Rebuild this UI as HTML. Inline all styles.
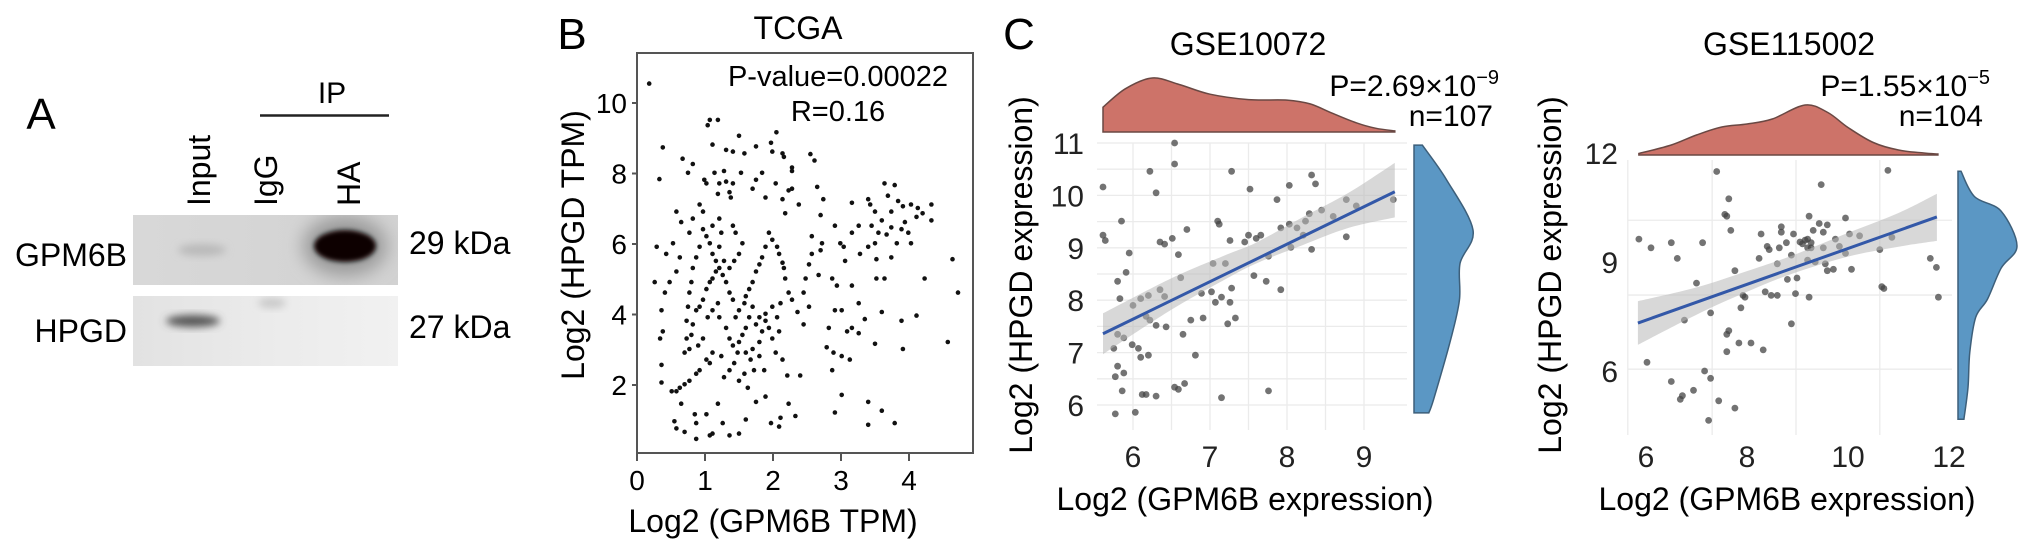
<!DOCTYPE html>
<html><head><meta charset="utf-8">
<style>
html,body{margin:0;padding:0;background:#fff;}
svg{display:block;font-family:"Liberation Sans",Arial,sans-serif;}
</style></head>
<body>
<svg id="fig" width="2032" height="552" viewBox="0 0 2032 552" xmlns="http://www.w3.org/2000/svg">
<defs>
<filter id="blur4" x="-50%" y="-50%" width="200%" height="200%"><feGaussianBlur stdDeviation="4"/></filter>
<filter id="blur8" x="-50%" y="-50%" width="200%" height="200%"><feGaussianBlur stdDeviation="9"/></filter>
<filter id="blur2" x="-50%" y="-50%" width="200%" height="200%"><feGaussianBlur stdDeviation="2.5"/></filter>
<linearGradient id="hpgdBg" x1="0" x2="1" y1="0" y2="0"><stop offset="0" stop-color="#e2e2e2"/><stop offset="0.5" stop-color="#ebebeb"/><stop offset="1" stop-color="#f1f1f1"/></linearGradient>
<linearGradient id="gpmBg" x1="0" x2="1" y1="0" y2="0"><stop offset="0" stop-color="#d8d8d8"/><stop offset="1" stop-color="#d2d2d2"/></linearGradient>
<clipPath id="clipB1"><rect x="133" y="215" width="265" height="70"/></clipPath>
<clipPath id="clipB2"><rect x="133" y="296" width="265" height="70"/></clipPath>
</defs>

<!-- Panel A -->
<g>
<text x="41" y="129" font-size="44" text-anchor="middle">A</text>
<text x="332" y="103" font-size="30" text-anchor="middle">IP</text>
<line x1="260" y1="115.5" x2="389" y2="115.5" stroke="#222" stroke-width="2.5"/>
<text transform="translate(210,206) rotate(-90)" font-size="32">Input</text>
<text transform="translate(277,206) rotate(-90)" font-size="32">IgG</text>
<text transform="translate(360,206) rotate(-90)" font-size="32">HA</text>
<text x="127" y="266" font-size="32" text-anchor="end">GPM6B</text>
<text x="127" y="342" font-size="32" text-anchor="end">HPGD</text>
<text x="409" y="254" font-size="32">29 kDa</text>
<text x="409" y="338" font-size="32">27 kDa</text>
<g clip-path="url(#clipB1)">
<rect x="133" y="215" width="265" height="70" fill="url(#gpmBg)"/>
<ellipse cx="202" cy="250" rx="24" ry="6" fill="#b9b9b9" filter="url(#blur4)"/>
<ellipse cx="345" cy="246" rx="42" ry="30" fill="#9a9a9a" filter="url(#blur8)"/>
<ellipse cx="345" cy="246" rx="31" ry="16" fill="#0a0404" filter="url(#blur2)"/>
</g>
<g clip-path="url(#clipB2)">
<rect x="133" y="296" width="265" height="70" fill="url(#hpgdBg)"/>
<ellipse cx="193" cy="321" rx="27" ry="6" fill="#555" filter="url(#blur4)"/>
<ellipse cx="272" cy="303" rx="14" ry="5" fill="#c8c8c8" filter="url(#blur4)"/>
</g>
</g>

<!-- Panel B -->
<g id="panelB">
<text x="572" y="49" font-size="44" text-anchor="middle">B</text>
<text x="798" y="39" font-size="32" text-anchor="middle">TCGA</text>
<rect x="637" y="53" width="336" height="400" fill="none" stroke="#555" stroke-width="2"/>
<text x="838" y="86" font-size="29" text-anchor="middle">P-value=0.00022</text>
<text x="838" y="121" font-size="29" text-anchor="middle">R=0.16</text>
<text transform="translate(584,245) rotate(-90)" font-size="32" text-anchor="middle">Log2 (HPGD TPM)</text>
<text x="773" y="532" font-size="32" text-anchor="middle">Log2 (GPM6B TPM)</text>
</g>

<!-- Panel C -->
<text x="1019" y="49" font-size="44" text-anchor="middle">C</text>
<g id="panelC1">
<text x="1248" y="55" font-size="32" text-anchor="middle">GSE10072</text>
<text x="1499" y="96" font-size="30" text-anchor="end">P=2.69×10<tspan font-size="20" dy="-12">−9</tspan></text>
<text x="1493" y="126" font-size="30" text-anchor="end">n=107</text>
<text transform="translate(1032,275) rotate(-90)" font-size="32" text-anchor="middle">Log2 (HPGD expression)</text>
<text x="1245" y="510" font-size="32" text-anchor="middle">Log2 (GPM6B expression)</text>
</g>
<g id="panelC2">
<text x="1789" y="55" font-size="32" text-anchor="middle">GSE115002</text>
<text x="1990" y="96" font-size="30" text-anchor="end">P=1.55×10<tspan font-size="20" dy="-12">−5</tspan></text>
<text x="1983" y="126" font-size="30" text-anchor="end">n=104</text>
<text transform="translate(1561,275) rotate(-90)" font-size="32" text-anchor="middle">Log2 (HPGD expression)</text>
<text x="1787" y="510" font-size="32" text-anchor="middle">Log2 (GPM6B expression)</text>
</g>
</svg>

<script>
// ---------- TCGA data ----------
const tcgaXTicks = [0, 1, 2, 3, 4];
const tcgaYTicks = [2, 4, 6, 8, 10];
const tcgaPoints = [[0.18,10.55],[1.07,9.52],[1.19,9.52],[1.04,9.37],[0.38,8.74],[0.33,7.84],[1.50,9.07],[2.05,9.17],[1.97,8.87],[1.99,8.62],[2.14,8.57],[2.16,8.47],[1.75,8.77],[1.58,8.57],[1.41,8.62],[1.31,8.67],[1.11,8.82],[2.55,8.55],[2.61,8.37],[0.67,8.42],[0.82,8.27],[0.75,8.02],[1.14,8.02],[1.28,8.07],[1.41,7.72],[1.53,8.02],[2.28,8.17],[2.28,8.07],[1.84,8.02],[1.75,7.82],[1.70,7.57],[1.89,7.32],[2.04,7.72],[0.99,7.82],[1.02,7.72],[1.21,7.72],[1.31,7.77],[1.36,7.47],[1.38,7.32],[1.19,7.42],[2.65,7.62],[2.23,7.52],[2.28,7.57],[2.38,7.12],[2.14,7.27],[2.18,6.87],[2.74,7.27],[2.70,6.82],[2.91,6.52],[3.16,7.17],[3.40,7.27],[3.43,7.12],[3.50,6.92],[3.64,7.72],[3.79,7.67],[3.69,7.37],[3.84,7.22],[3.91,7.07],[4.03,7.12],[4.13,7.02],[4.20,6.87],[4.33,7.12],[4.33,6.67],[4.11,6.77],[3.74,6.92],[3.60,6.67],[3.45,6.52],[3.74,6.47],[3.55,6.32],[3.67,6.27],[3.89,6.42],[3.82,6.02],[3.50,6.02],[3.40,5.92],[3.28,5.72],[3.16,6.32],[3.26,6.52],[2.99,6.02],[3.06,5.52],[3.04,5.92],[3.74,5.62],[3.52,5.57],[4.03,6.02],[4.23,5.02],[3.64,5.02],[3.52,5.02],[3.94,6.62],[3.99,6.32],[4.64,5.57],[4.72,4.62],[4.57,3.22],[4.11,3.97],[3.89,3.82],[3.91,3.02],[3.60,4.07],[3.50,3.17],[3.35,3.87],[3.26,3.47],[3.16,3.62],[3.09,3.52],[3.13,2.72],[3.01,2.82],[2.89,2.92],[2.82,3.62],[2.79,3.07],[2.91,4.12],[3.01,4.12],[2.87,2.42],[3.01,1.72],[2.91,1.22],[3.40,1.52],[3.40,0.87],[3.60,1.27],[3.79,0.92],[3.16,4.82],[3.26,4.32],[2.94,4.82],[2.87,5.02],[2.67,5.12],[2.70,5.82],[2.72,6.02],[2.57,6.22],[2.57,5.72],[2.53,5.42],[2.48,5.02],[2.45,4.62],[2.53,4.22],[2.45,3.72],[2.36,4.07],[2.28,4.42],[2.23,4.62],[2.18,5.02],[2.16,5.32],[2.14,5.47],[2.09,5.72],[2.06,5.92],[1.99,6.12],[1.94,6.32],[1.89,5.92],[1.84,5.62],[1.80,5.42],[1.75,5.22],[1.70,4.92],[1.65,4.72],[1.60,4.52],[1.58,4.32],[1.50,4.12],[1.45,3.92],[1.41,4.42],[1.36,4.62],[1.31,4.92],[1.26,5.12],[1.21,5.32],[1.16,5.52],[1.11,5.72],[1.07,6.02],[1.02,6.22],[0.97,6.42],[0.92,5.92],[0.87,5.62],[0.82,5.32],[0.80,4.92],[0.77,4.62],[0.75,4.22],[0.73,3.82],[0.73,3.32],[0.70,2.92],[0.63,5.62],[0.58,5.22],[0.53,6.02],[0.48,4.92],[0.41,4.62],[0.36,4.12],[0.34,3.32],[0.38,3.52],[0.29,5.92],[0.26,4.92],[0.43,5.72],[0.58,6.92],[0.65,6.62],[0.77,6.32],[0.82,6.72],[0.92,7.12],[0.97,6.92],[1.11,6.52],[1.21,6.72],[1.24,6.32],[1.41,6.52],[1.45,6.32],[1.55,6.02],[1.50,5.72],[1.43,5.52],[1.36,5.32],[1.28,5.52],[1.21,5.92],[1.16,5.22],[1.11,5.02],[1.07,4.92],[1.02,4.72],[0.97,4.42],[0.92,4.22],[0.87,4.12],[0.82,3.72],[0.80,3.42],[0.77,3.02],[0.90,3.12],[0.97,3.32],[1.04,3.92],[1.11,4.12],[1.19,4.32],[1.21,3.92],[1.31,3.62],[1.36,3.32],[1.41,3.12],[1.48,2.92],[1.43,2.62],[1.36,2.42],[1.28,2.22],[1.24,2.82],[1.11,2.92],[1.07,2.62],[1.02,2.72],[0.92,2.42],[0.87,2.32],[0.77,2.12],[0.70,2.02],[0.63,1.92],[0.58,1.82],[0.36,2.57],[0.36,2.07],[0.51,1.82],[0.65,1.47],[0.55,0.97],[0.58,0.77],[0.70,0.67],[0.87,0.47],[0.87,0.92],[0.85,1.17],[1.02,1.17],[1.07,0.57],[1.11,0.62],[1.19,1.47],[1.26,0.92],[1.36,0.57],[1.50,0.62],[1.60,1.02],[1.63,1.92],[1.72,2.42],[1.75,1.52],[1.80,2.82],[1.87,2.42],[1.89,1.67],[1.97,0.92],[2.09,0.82],[2.11,1.07],[2.23,1.47],[2.33,1.12],[2.40,2.27],[2.21,2.27],[2.14,2.72],[2.04,2.92],[1.99,3.32],[1.94,3.62],[1.89,3.82],[1.84,3.52],[1.80,3.22],[1.70,3.02],[1.75,3.72],[1.80,3.92],[1.89,4.02],[1.99,4.22],[2.09,3.52],[2.06,3.92],[2.11,4.32],[1.70,4.22],[1.65,3.92],[1.60,3.62],[1.55,3.42],[1.50,3.22],[1.60,2.92],[1.67,2.72],[1.58,2.32],[1.50,2.12]];

// ---------- GSE10072 data ----------
const g1XTicks = [6, 7, 8, 9];
const g1YTicks = [6, 7, 8, 9, 10, 11];
const g1Points = [[6.54,11.0],[6.54,10.6],[5.61,10.16],[6.22,10.46],[6.30,10.05],[7.28,10.46],[7.52,10.12],[8.03,10.19],[8.32,10.39],[8.37,10.22],[7.87,9.92],[5.85,9.51],[5.61,9.24],[5.64,9.14],[7.10,9.51],[7.12,9.45],[6.35,9.11],[6.41,9.07],[6.51,9.18],[6.70,9.35],[7.26,9.14],[6.59,8.87],[7.50,9.24],[7.60,9.18],[7.66,9.24],[7.45,9.11],[7.76,8.84],[7.92,9.38],[8.03,9.45],[8.13,9.38],[8.24,9.51],[8.29,9.65],[8.45,9.72],[8.77,9.92],[8.05,9.01],[8.21,9.24],[8.32,8.97],[8.77,9.21],[9.38,9.92],[7.04,8.70],[7.20,8.70],[5.91,8.53],[5.80,8.36],[6.62,8.43],[7.57,8.47],[7.73,8.36],[7.92,8.20],[5.83,8.03],[6.10,8.03],[6.20,8.09],[6.35,8.20],[6.41,8.07],[6.89,8.13],[7.02,8.16],[7.15,8.06],[7.28,8.23],[7.07,7.96],[7.26,7.96],[6.17,7.69],[6.22,7.62],[6.30,7.52],[6.43,7.49],[6.75,7.62],[6.91,7.66],[7.23,7.55],[7.33,7.66],[6.65,7.35],[5.80,7.35],[5.88,7.28],[5.99,7.15],[6.07,7.08],[5.75,7.08],[6.10,6.91],[6.20,6.95],[6.81,6.95],[5.80,6.74],[5.88,6.61],[5.77,6.54],[5.86,6.27],[6.12,6.20],[6.17,6.20],[6.30,6.17],[6.54,6.34],[6.59,6.30],[6.67,6.41],[5.77,5.83],[6.03,5.86],[7.15,6.14],[7.76,6.27],[5.95,8.9],[6.0,7.9],[8.6,9.6],[8.9,9.8]];
const g1Fit = [[5.61,7.36],[9.40,10.07]];
const g1BandX = [5.61, 6.5, 7.2, 7.6, 8.2, 8.8, 9.40];
const g1BandLo = [6.97, 7.82, 8.40, 8.70, 9.05, 9.38, 9.58];
const g1BandHi = [7.75, 8.42, 8.86, 9.10, 9.58, 10.05, 10.62];
const g1TopDensX = [5.61, 5.9, 6.25, 6.6, 7.0, 7.5, 8.0, 8.3, 8.6, 8.9, 9.15, 9.4];
const g1TopDensV = [0.46, 0.80, 1.0, 0.88, 0.70, 0.60, 0.59, 0.52, 0.34, 0.17, 0.07, 0.02];
const g1SideDensY = [10.96, 10.3, 9.34, 8.7, 8.0, 7.2, 6.1, 5.85];
const g1SideDensV = [0.14, 0.55, 1.0, 0.78, 0.77, 0.61, 0.33, 0.25];

// ---------- GSE115002 data ----------
const g2XTicks = [6, 8, 10, 12];
const g2YTicks = [6, 9, 12];
const g2Points = [[7.40,11.49],[10.79,11.52],[9.47,11.13],[7.64,10.74],[7.56,10.31],[7.60,10.26],[7.68,9.87],[9.23,10.26],[9.43,10.06],[9.59,10.02],[9.31,9.87],[9.51,9.82],[9.95,10.21],[8.68,9.97],[8.68,9.82],[8.92,9.77],[8.28,9.77],[8.40,9.43],[8.44,9.34],[8.64,9.39],[8.78,9.53],[9.20,9.63],[9.27,9.53],[9.20,9.39],[9.27,9.39],[9.51,9.39],[9.75,9.63],[9.83,9.43],[10.03,9.77],[10.23,9.72],[9.95,9.24],[10.63,9.34],[10.87,9.68],[5.86,9.63],[6.10,9.39],[6.50,9.53],[7.12,9.53],[6.62,9.10],[7.76,8.76],[8.24,9.10],[8.60,8.95],[8.88,9.19],[9.20,9.05],[9.35,9.00],[9.59,8.76],[9.71,8.80],[10.07,8.80],[9.55,8.95],[8.80,8.52],[8.99,8.56],[7.00,8.42],[11.63,9.10],[11.75,8.85],[10.67,8.32],[10.71,8.27],[8.36,8.18],[8.48,8.08],[8.60,8.08],[7.92,8.08],[7.96,8.03],[8.96,8.13],[9.23,8.03],[11.79,8.03],[7.28,7.60],[6.76,7.40],[7.88,7.74],[7.64,7.11],[7.60,7.01],[8.88,7.30],[7.84,6.77],[8.08,6.77],[7.60,6.53],[8.32,6.58],[6.02,6.24],[7.16,6.00],[7.28,5.80],[6.50,5.71],[6.94,5.47],[6.72,5.32],[6.68,5.22],[7.44,5.18],[7.76,4.98],[7.24,4.64],[9.05,9.55],[9.15,9.60],[9.10,9.50]];
const g2Fit = [[5.84,7.32],[11.76,10.24]];
const g2BandX = [5.84, 7.0, 8.0, 8.9, 10.0, 11.0, 11.76];
const g2BandLo = [6.72, 7.55, 8.18, 8.68, 9.15, 9.42, 9.58];
const g2BandHi = [7.92, 8.30, 8.75, 9.18, 9.80, 10.35, 10.88];
const g2TopDensX = [5.86, 6.5, 7.0, 7.5, 8.0, 8.5, 9.15, 9.6, 10.0, 10.5, 11.0, 11.5, 11.78];
const g2TopDensV = [0.03, 0.20, 0.40, 0.56, 0.62, 0.72, 1.0, 0.85, 0.55, 0.25, 0.10, 0.04, 0.02];
const g2SideDensY = [11.5, 10.8, 10.4, 9.44, 8.83, 7.98, 7.48, 6.52, 5.55, 4.67];
const g2SideDensV = [0.05, 0.28, 0.73, 1.0, 0.73, 0.50, 0.30, 0.20, 0.17, 0.10];

const NS = 'http://www.w3.org/2000/svg';
function mk(tag, attrs, parent) {
  const e = document.createElementNS(NS, tag);
  for (const k in attrs) e.setAttribute(k, attrs[k]);
  parent.appendChild(e);
  return e;
}
function lin(d0, d1, r0, r1) { return v => r0 + (v - d0) * (r1 - r0) / (d1 - d0); }
function smooth(pts) {
  let d = 'M' + pts[0][0].toFixed(1) + ',' + pts[0][1].toFixed(1);
  for (let i = 0; i < pts.length - 1; i++) {
    const p0 = pts[Math.max(0, i - 1)], p1 = pts[i], p2 = pts[i + 1], p3 = pts[Math.min(pts.length - 1, i + 2)];
    const c1x = p1[0] + (p2[0] - p0[0]) / 6, c1y = p1[1] + (p2[1] - p0[1]) / 6;
    const c2x = p2[0] - (p3[0] - p1[0]) / 6, c2y = p2[1] - (p3[1] - p1[1]) / 6;
    d += ' C' + c1x.toFixed(1) + ',' + c1y.toFixed(1) + ' ' + c2x.toFixed(1) + ',' + c2y.toFixed(1) + ' ' + p2[0].toFixed(1) + ',' + p2[1].toFixed(1);
  }
  return d;
}

// ---------- Draw TCGA ----------
(function () {
  const g = document.getElementById('panelB');
  const sx = lin(0, 4, 637, 909);
  const sy = lin(2, 10, 385, 103);
  tcgaYTicks.forEach(t => {
    const tk = mk('line', {x1: 632, x2: 637, y1: sy(t), y2: sy(t), stroke: '#555', 'stroke-width': 2}, g);
    
    
    const lb = mk('text', {x: 627, y: sy(t) + 10, 'font-size': 28, 'text-anchor': 'end'}, g);
    
    
    lb.textContent = t;
  });
  tcgaXTicks.forEach(t => {
    const tk = mk('line', {x1: sx(t), x2: sx(t), y1: 453, y2: 461, stroke: '#555', 'stroke-width': 2}, g);
    
    
    const lb = mk('text', {x: sx(t), y: 490, 'font-size': 28, 'text-anchor': 'middle'}, g);
    
    
    lb.textContent = t;
  });
  const pg = mk('g', {fill: '#111'}, g);
  
  
  tcgaPoints.forEach(p => {
    const c = mk('circle', {cx: sx(p[0]).toFixed(1), cy: sy(p[1]).toFixed(1), r: 2.3}, pg);
    
    
  });
})();

// ---------- Generic GSE drawer ----------
function drawGse(cfg) {
  const g = document.getElementById(cfg.id);
  const sx = cfg.sx, sy = cfg.sy;
  // grid
  cfg.gridX.forEach(v => {
    const l = mk('line', {x1: sx(v), x2: sx(v), y1: cfg.top, y2: cfg.bottom, stroke: '#ebebeb', 'stroke-width': 1.3}, g);
    
    
  });
  cfg.gridY.forEach(v => {
    const l = mk('line', {x1: cfg.left, x2: cfg.right, y1: sy(v), y2: sy(v), stroke: '#ebebeb', 'stroke-width': 1.3}, g);
    
    
  });
  // tick labels
  cfg.xTicks.forEach(t => {
    const lb = mk('text', {x: cfg.lx(t), y: 467, 'font-size': 30, 'text-anchor': 'middle', fill: '#222'}, g);
    
    
    lb.textContent = t;
  });
  cfg.yTicks.forEach(t => {
    const lb = mk('text', {x: cfg.labelRight, y: cfg.ly(t) + 11, 'font-size': 30, 'text-anchor': 'end', fill: '#222'}, g);
    
    
    lb.textContent = t;
  });
  // top density
  const base = cfg.topBase, h = cfg.topH;
  const tp = cfg.topX.map((x, i) => [sx(x), base - cfg.topV[i] * h]);
  const td = smooth(tp) + ' L' + sx(cfg.topX[cfg.topX.length - 1]).toFixed(1) + ',' + base + ' L' + sx(cfg.topX[0]).toFixed(1) + ',' + base + ' Z';
  const topEl = mk('path', {d: td, fill: '#cd7369', stroke: '#6a4843', 'stroke-width': 1.5}, g);
  
  
  // side density
  const sb = cfg.sideBase, sw = cfg.sideW;
  const sp = cfg.sideY.map((y, i) => [sb + cfg.sideV[i] * sw, sy(y)]);
  const sd = 'M' + sb + ',' + sy(cfg.sideY[0]).toFixed(1) + ' L' + smooth(sp).slice(1) + ' L' + sb + ',' + sy(cfg.sideY[cfg.sideY.length - 1]).toFixed(1) + ' Z';
  const sideEl = mk('path', {d: sd, fill: '#5b97c4', stroke: '#3d5f7a', 'stroke-width': 1.5}, g);
  
  
  // points
  const pg = mk('g', {fill: '#444', 'fill-opacity': 0.75}, g);
  
  
  cfg.points.forEach(p => {
    const c = mk('circle', {cx: sx(p[0]).toFixed(1), cy: sy(p[1]).toFixed(1), r: 3.4}, pg);
    
    
  });
  // confidence band
  const up = cfg.bandX.map((x, i) => [sx(x), sy(cfg.bandHi[i])]);
  const lo = cfg.bandX.map((x, i) => [sx(x), sy(cfg.bandLo[i])]).reverse();
  const bd = smooth(up) + ' L' + smooth(lo).slice(1) + ' Z';
  const band = mk('path', {d: bd, fill: '#b8b8b8', 'fill-opacity': 0.55}, g);
  
  
  const fl = mk('line', {x1: sx(cfg.fit[0][0]), y1: sy(cfg.fit[0][1]), x2: sx(cfg.fit[1][0]), y2: sy(cfg.fit[1][1]), stroke: '#3358a8', 'stroke-width': 3}, g);
  
  
}

const g1sx = lin(6, 9, 1133, 1364);
const g1sy = lin(6, 11, 405, 143);
drawGse({
  id: 'panelC1', pfx: 'gse10072', sx: g1sx, sy: g1sy, lx: g1sx, ly: g1sy,
  left: 1097, right: 1407, top: 143, bottom: 430,
  gridX: [6, 6.5, 7, 7.5, 8, 8.5, 9], gridY: [6, 6.5, 7, 7.5, 8, 8.5, 9, 9.5, 10, 10.5, 11],
  xTicks: g1XTicks, yTicks: g1YTicks, labelRight: 1084,
  topX: g1TopDensX, topV: g1TopDensV, topBase: 132, topH: 54,
  sideY: g1SideDensY, sideV: g1SideDensV, sideBase: 1414, sideW: 59,
  points: g1Points, fit: g1Fit, bandX: g1BandX, bandLo: g1BandLo, bandHi: g1BandHi
});

const g2sx = lin(6, 12, 1646, 1949);
const g2sy = lin(6, 12, 371, 153);
drawGse({
  id: 'panelC2', pfx: 'gse115002', sx: g2sx, sy: g2sy, lx: g2sx, ly: g2sy,
  left: 1628, right: 1952, top: 160, bottom: 435,
  gridX: [5.64, 7.31, 8.97, 10.63], gridY: [10.15, 8.09, 6.05],
  xTicks: g2XTicks, yTicks: g2YTicks, labelRight: 1618,
  topX: g2TopDensX, topV: g2TopDensV, topBase: 155, topH: 50,
  sideY: g2SideDensY, sideV: g2SideDensV, sideBase: 1958, sideW: 59,
  points: g2Points, fit: g2Fit, bandX: g2BandX, bandLo: g2BandLo, bandHi: g2BandHi
});
</script>
</body></html>
